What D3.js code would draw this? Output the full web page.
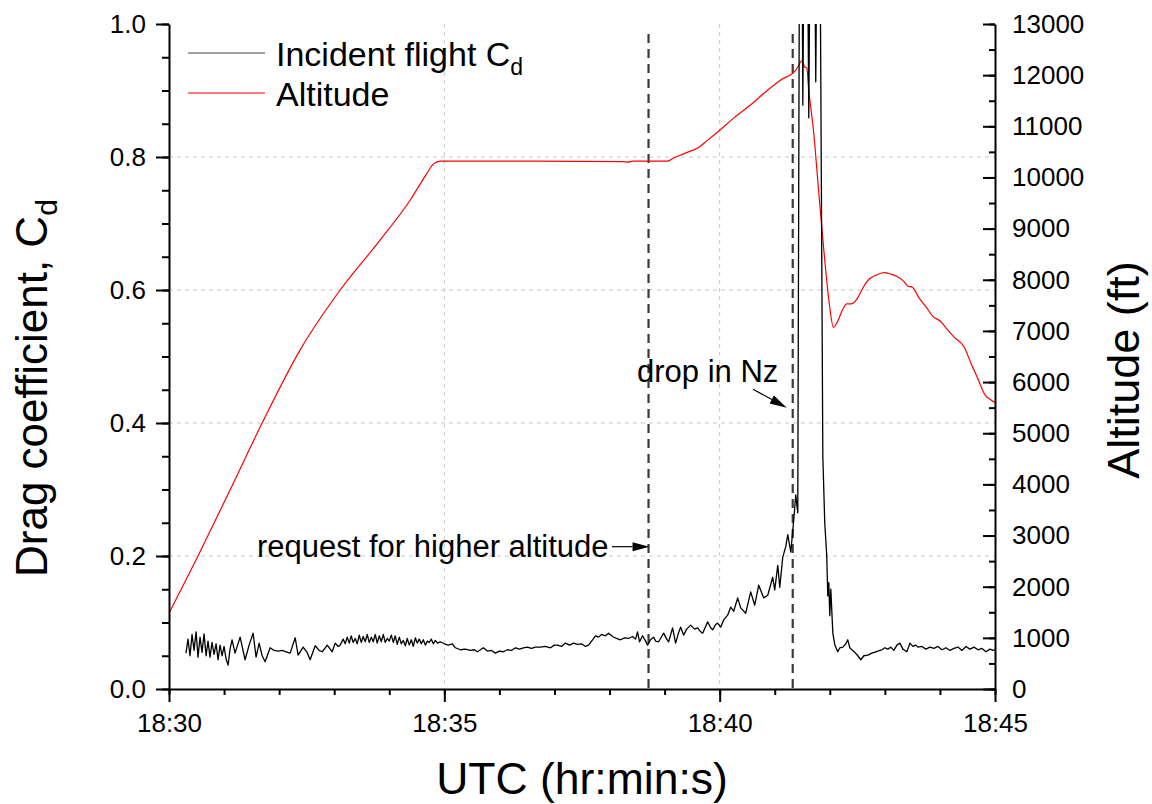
<!DOCTYPE html>
<html><head><meta charset="utf-8">
<script src="https://cdn.jsdelivr.net/npm/d3@7"></script>
<style>
body{margin:0;background:#fff;}
svg{display:block;font-family:"Liberation Sans",Arial,sans-serif;}
</style></head>
<body><svg id="c" width="1152" height="804"></svg>
<script>
// time in seconds after 18:30:00
const xTickValues = [0, 300, 600, 900];
const xTickLabels = ["18:30", "18:35", "18:40", "18:45"];
const cdTickValues = [0, 0.2, 0.4, 0.6, 0.8, 1.0];
const altTickValues = [0,1000,2000,3000,4000,5000,6000,7000,8000,9000,10000,11000,12000,13000];
const eventTimes = [522.5, 679.6];

const cdSeries = [
[18.5,0.054],[20.7,0.075],[22.9,0.050],[25.1,0.082],[27.3,0.058],[29.5,0.086],[31.6,0.048],[33.8,0.078],
[36.0,0.055],[38.2,0.083],[40.4,0.050],[42.5,0.072],[44.7,0.048],[46.9,0.070],[49.1,0.052],[51.3,0.068],
[53.5,0.044],[55.6,0.066],[57.8,0.050],[60.0,0.064],[62.2,0.045],[64.4,0.036],[66.5,0.060],[68.7,0.074],
[72.0,0.054],[77.5,0.078],[82.9,0.044],[87.3,0.066],[91.6,0.084],[94.9,0.048],[98.2,0.069],[101.5,0.050],
[104.7,0.041],[110.2,0.062],[114.5,0.058],[118.9,0.057],[123.3,0.058],[127.6,0.056],[132.0,0.054],[137.5,0.077],
[140.7,0.051],[146.2,0.063],[150.5,0.055],[153.8,0.044],[159.3,0.065],[163.6,0.058],[166.9,0.056],[170.2,0.062],
[172.4,0.066],[177.8,0.056],[181.1,0.069],[184.4,0.064],[186.5,0.066],[189.8,0.075],[192.0,0.068],[194.2,0.078],
[196.4,0.069],[198.5,0.080],[200.7,0.070],[202.9,0.076],[205.1,0.068],[207.3,0.081],[209.5,0.070],[211.6,0.079],
[213.8,0.071],[216.0,0.082],[218.2,0.070],[220.4,0.078],[222.5,0.071],[224.7,0.082],[226.9,0.069],[229.1,0.080],
[231.3,0.071],[233.5,0.082],[235.6,0.070],[237.8,0.076],[240.0,0.072],[242.2,0.081],[244.4,0.070],[246.5,0.080],
[248.7,0.067],[250.9,0.078],[253.1,0.068],[255.3,0.073],[257.5,0.065],[259.6,0.076],[261.8,0.066],[264.0,0.074],
[266.2,0.064],[268.4,0.077],[270.5,0.069],[272.7,0.075],[274.9,0.068],[277.1,0.074],[279.3,0.066],[281.5,0.072],
[283.6,0.070],[285.8,0.075],[288.0,0.068],[290.2,0.073],[292.4,0.069],[295.6,0.071],[300.0,0.068],[304.4,0.066],
[308.7,0.068],[312.0,0.062],[317.5,0.059],[322.9,0.060],[328.4,0.058],[332.7,0.059],[336.0,0.056],[339.3,0.059],
[342.5,0.062],[346.9,0.057],[351.3,0.058],[355.6,0.054],[360.0,0.057],[364.4,0.056],[368.7,0.059],[373.1,0.058],
[377.5,0.062],[381.8,0.060],[386.2,0.062],[390.5,0.063],[394.9,0.061],[399.3,0.063],[404.7,0.063],[410.2,0.064],
[415.6,0.062],[420.0,0.066],[423.3,0.066],[427.6,0.064],[432.0,0.069],[436.4,0.066],[440.7,0.069],[445.1,0.067],
[449.5,0.068],[453.8,0.064],[457.1,0.066],[461.5,0.074],[464.7,0.080],[468.0,0.078],[471.3,0.082],[475.6,0.080],
[479.0,0.084],[483.3,0.079],[487.6,0.076],[492.0,0.074],[496.4,0.077],[500.7,0.076],[505.1,0.079],[508.4,0.075],
[510.5,0.086],[512.7,0.071],[516.0,0.080],[519.3,0.072],[521.5,0.066],[524.7,0.074],[528.0,0.078],[530.2,0.072],
[533.5,0.071],[536.8,0.079],[539.0,0.084],[542.3,0.075],[544.4,0.071],[548.7,0.092],[552.0,0.069],[555.3,0.085],
[557.5,0.093],[560.7,0.081],[564.0,0.090],[568.4,0.096],[572.7,0.090],[576.0,0.092],[579.3,0.086],[581.5,0.084],
[584.7,0.094],[586.9,0.101],[590.2,0.092],[592.4,0.089],[595.6,0.097],[597.8,0.099],[601.1,0.093],[604.4,0.104],
[608.7,0.111],[612.0,0.123],[615.3,0.117],[619.6,0.137],[622.9,0.122],[628.4,0.114],[633.8,0.146],[638.2,0.126],
[642.5,0.156],[648.0,0.137],[652.4,0.141],[657.8,0.168],[660.0,0.149],[663.3,0.186],[665.5,0.153],[668.7,0.198],
[672.0,0.214],[674.2,0.232],[677.5,0.206],[680.7,0.254],[682.9,0.292],[685.1,0.265],[687.3,1.3],[689.5,1.2],
[690.6,0.878],[692.7,1.3],[694.9,1.3],[697.1,0.859],[699.3,1.3],[702.5,1.3],[704.7,0.913],[706.9,1.3],
[709.1,1.2],[712.4,0.35],[714.5,0.25],[716.7,0.20],[717.8,0.14],[718.9,0.16],[720.0,0.11],[721.1,0.15],
[723.3,0.084],[725.5,0.066],[728.7,0.056],[730.9,0.062],[734.2,0.063],[737.5,0.068],[739.6,0.074],[741.8,0.062],
[744.0,0.059],[747.3,0.055],[750.5,0.050],[753.8,0.044],[757.1,0.050],[761.5,0.051],[765.8,0.054],[770.2,0.056],
[774.5,0.058],[776.7,0.059],[780.0,0.062],[783.3,0.060],[786.5,0.063],[789.8,0.058],[793.1,0.066],[796.4,0.069],
[799.6,0.060],[804.0,0.056],[807.3,0.069],[810.5,0.064],[813.8,0.066],[816.0,0.063],[820.4,0.064],[824.7,0.060],
[829.1,0.063],[833.5,0.061],[837.8,0.064],[842.2,0.059],[846.5,0.062],[850.9,0.058],[855.3,0.061],[859.6,0.063],
[864.0,0.058],[868.4,0.064],[872.7,0.060],[877.1,0.063],[881.5,0.059],[885.8,0.061],[890.2,0.056],[894.5,0.060],
[897.8,0.058],[900.0,0.059]
];

const altSeries = [
[0,1480],[31.6,2600],[66.5,3890],[101.5,5200],[142.9,6630],[186.5,7800],[230.2,8780],[262.9,9560],
[280.0,10050],[288.0,10260],[295.6,10320],[400,10320],[495,10310],[500,10300],[505,10320],[543.3,10320],[549.8,10380],
[557.5,10440],[566.2,10500],[576.0,10575],[586.9,10730],[597.8,10890],[615.3,11160],[633.8,11420],[652.4,11710],
[666.5,11905],[682.9,12100],[685.1,12160],[689.5,12280],[692.7,12160],[694.9,12140],[697.1,11710],[702.5,10870],
[708.0,9700],[713.5,8580],[719.0,7600],[724.0,7070],[728.4,7180],[733.8,7410],[738.5,7530],[743.7,7530],
[750.2,7640],[755.7,7830],[761.1,7980],[770.2,8090],[779.2,8140],[786.5,8110],[793.8,8060],[801.0,7960],
[804.8,7880],[810.2,7850],[817.4,7640],[824.7,7475],[832.0,7290],[841.1,7180],[848.4,7020],[855.6,6875],
[866.5,6680],[873.8,6370],[881.1,6075],[889.1,5750],[895.6,5650],[900,5600]
];

const svg = d3.select("#c");
const L = 169, R = 995, T = 24, B = 689;
const x = d3.scaleLinear().domain([0, 900]).range([L, R]);
const yL = d3.scaleLinear().domain([0, 1]).range([B, T]);
const yR = d3.scaleLinear().domain([0, 13000]).range([B, T]);

svg.append("defs").append("clipPath").attr("id","clip")
  .append("rect").attr("x",L).attr("y",T).attr("width",R-L).attr("height",B-T);

// grid
const grid = svg.append("g").attr("stroke","#c8c8c8").attr("stroke-width",1).attr("stroke-dasharray","4,4");
[0.2,0.4,0.6,0.8].forEach(v=>grid.append("line").attr("x1",L).attr("x2",R).attr("y1",yL(v)).attr("y2",yL(v)));
[300,600].forEach(v=>grid.append("line").attr("x1",x(v)).attr("x2",x(v)).attr("y1",T).attr("y2",B));

// event lines
svg.append("g").selectAll("line").data(eventTimes).join("line")
  .attr("x1",d=>x(d)).attr("x2",d=>x(d)).attr("y1",yL(0.985)).attr("y2",B)
  .attr("stroke","#3a3a3a").attr("stroke-width",2.2).attr("stroke-dasharray","9,6");

// lines
const plot = svg.append("g").attr("clip-path","url(#clip)");
plot.append("path").datum(altSeries)
  .attr("d", d3.line().curve(d3.curveMonotoneX).x(d=>x(d[0])).y(d=>yR(d[1])))
  .attr("fill","none").attr("stroke","#ff0000").attr("stroke-width",1.2);
plot.append("path").datum(cdSeries)
  .attr("d", d3.line().x(d=>x(d[0])).y(d=>yL(d[1])))
  .attr("fill","none").attr("stroke","#000").attr("stroke-width",1.3).attr("stroke-linejoin","round");

// axes
const font = "\"Liberation Sans\",Arial,sans-serif";
function styleAxis(g){
  g.selectAll("path,line").attr("stroke","#000").attr("stroke-width",2);
  g.selectAll("text").attr("font-family",font).attr("font-size",26).attr("fill","#000");
}
// left
svg.append("g").attr("transform",`translate(${L},0)`)
  .call(d3.axisLeft(yL).tickValues(d3.range(0,1.0001,0.05)).tickSize(7).tickFormat(""))
  .call(g=>g.select(".domain").remove()).call(styleAxis);
svg.append("g").attr("transform",`translate(${L},0)`)
  .call(d3.axisLeft(yL).tickValues(cdTickValues).tickSizeInner(13).tickSizeOuter(0).tickPadding(10).tickFormat(d3.format(".1f")))
  .call(styleAxis);
// bottom
svg.append("g").attr("transform",`translate(0,${B})`)
  .call(d3.axisBottom(x).tickValues(d3.range(0,901,60)).tickSize(6).tickFormat(""))
  .call(g=>g.select(".domain").remove()).call(styleAxis);
svg.append("g").attr("transform",`translate(0,${B})`)
  .call(d3.axisBottom(x).tickValues(xTickValues).tickSizeInner(13).tickSizeOuter(0).tickPadding(12).tickFormat((d,i)=>xTickLabels[i]))
  .call(styleAxis);
// right
svg.append("g").attr("transform",`translate(${R},0)`)
  .call(d3.axisRight(yR).tickValues(d3.range(0,13001,500)).tickSize(-6).tickFormat(""))
  .call(g=>g.select(".domain").remove()).call(styleAxis);
svg.append("g").attr("transform",`translate(${R},0)`)
  .call(d3.axisRight(yR).tickValues(altTickValues).tickSizeInner(-12).tickSizeOuter(0).tickPadding(17).tickFormat(d3.format("d")))
  .call(styleAxis);

// axis titles
svg.append("text").attr("x",(L+R)/2).attr("y",794).attr("text-anchor","middle")
  .attr("font-family",font).attr("font-size",44.5).text("UTC (hr:min:s)");
const lt = svg.append("text").attr("transform","translate(47,577) rotate(-90)")
  .attr("font-family",font).attr("font-size",44);
lt.append("tspan").text("Drag coefficient, C");
lt.append("tspan").attr("font-size",30).attr("dy",10).text("d");
svg.append("text").attr("transform","translate(1139,370) rotate(-90)").attr("text-anchor","middle")
  .attr("font-family",font).attr("font-size",45).text("Altitude (ft)");

// legend
const lg = svg.append("g");
lg.append("line").attr("x1",188).attr("x2",265).attr("y1",53).attr("y2",53).attr("stroke","#444").attr("stroke-width",1.2);
lg.append("line").attr("x1",188).attr("x2",265).attr("y1",93).attr("y2",93).attr("stroke","#ff0000").attr("stroke-width",1.2);
const l1 = lg.append("text").attr("x",276).attr("y",66).attr("font-family",font).attr("font-size",34);
l1.append("tspan").text("Incident flight C");
l1.append("tspan").attr("font-size",23).attr("dy",9).text("d");
lg.append("text").attr("x",276).attr("y",106).attr("font-family",font).attr("font-size",34).text("Altitude");

// annotations
svg.append("text").attr("x",257).attr("y",557).attr("font-family",font).attr("font-size",31).text("request for higher altitude");
svg.append("text").attr("x",637).attr("y",382).attr("font-family",font).attr("font-size",31).text("drop in Nz");

function arrow(x0,y0,x1,y1){
  const ang = Math.atan2(y1-y0,x1-x0), hl=17, hw=4.5;
  const bx = x1-hl*Math.cos(ang), by = y1-hl*Math.sin(ang);
  svg.append("line").attr("x1",x0).attr("y1",y0).attr("x2",bx).attr("y2",by).attr("stroke","#000").attr("stroke-width",1.2);
  svg.append("path").attr("d",`M${x1},${y1}L${bx-hw*Math.sin(ang)},${by+hw*Math.cos(ang)}L${bx+hw*Math.sin(ang)},${by-hw*Math.cos(ang)}Z`).attr("fill","#000");
}
arrow(612, yL(0.214), x(eventTimes[0])+1, yL(0.214));
arrow(753, yR(5860), x(eventTimes[1])-6, yR(5500));
</script></body></html>
